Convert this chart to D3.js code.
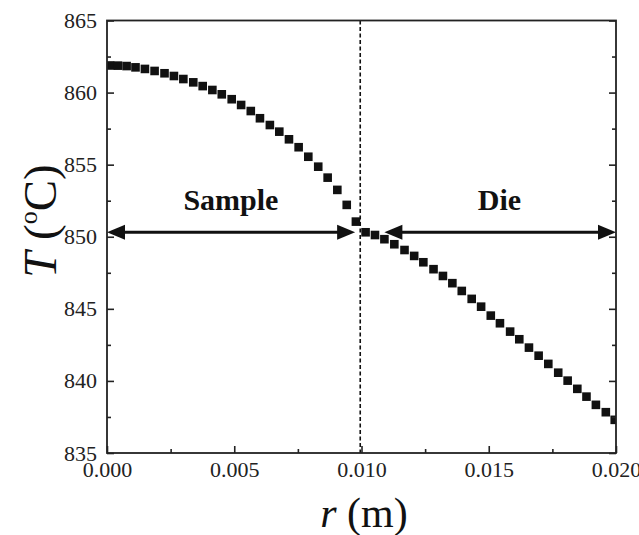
<!DOCTYPE html>
<html>
<head>
<meta charset="utf-8">
<script src="https://cdn.jsdelivr.net/npm/d3@7"></script>
<style>
  html, body { margin: 0; padding: 0; background: #fff; }
  svg { display: block; font-family: "Liberation Serif", "Times New Roman", serif; }
</style>
</head>
<body>
<div id="chart"></div>
<script>
// ---- data ----
const rSample = [0.00012, 0.00043, 0.00077, 0.00112, 0.00149, 0.00187, 0.00226, 0.00263, 0.00300, 0.00339,
                 0.00376, 0.00414, 0.00451, 0.00490, 0.00527, 0.00565, 0.00601, 0.00640, 0.00677, 0.00715,
                 0.00753, 0.00791, 0.00830, 0.00867, 0.00905, 0.00942, 0.00978];
const tSample = [861.88, 861.87, 861.84, 861.75, 861.64, 861.50, 861.34, 861.15, 860.94, 860.71,
                 860.45, 860.18, 859.88, 859.54, 859.14, 858.72, 858.22, 857.75, 857.29, 856.76,
                 856.21, 855.55, 854.86, 854.10, 853.25, 852.21, 851.05];
const rDie = [0.01016, 0.01053, 0.01090, 0.01129, 0.01169, 0.01207, 0.01243, 0.01283, 0.01320, 0.01357,
              0.01394, 0.01433, 0.01470, 0.01508, 0.01544, 0.01584, 0.01620, 0.01658, 0.01696, 0.01734,
              0.01773, 0.01810, 0.01848, 0.01884, 0.01921, 0.01960, 0.01995];
const tDie = [850.31, 850.12, 849.83, 849.48, 849.08, 848.67, 848.23, 847.75, 847.28, 846.78,
              846.24, 845.69, 845.15, 844.53, 844.00, 843.42, 842.89, 842.31, 841.75, 841.18,
              840.57, 840.02, 839.45, 838.91, 838.34, 837.83, 837.30];
const xTicks = [0.000, 0.005, 0.010, 0.015, 0.020];
const xMinorTicks = [0.0025, 0.0075, 0.0125, 0.0175];
const yTicks = [835, 840, 845, 850, 855, 860, 865];
const yMinorTicks = [837.5, 842.5, 847.5, 852.5, 857.5, 862.5];
const boundaryR = 0.00995;
const regionLabels = ["Sample", "Die"];
const regionLabelR = [0.00487, 0.01542];
const regionLabelT = 851.85;
const arrowStartR = [0.0, 0.0109];
const arrowEndR = [0.00975, 0.0200];
const arrowT = 850.31;

// ---- layout ----
const W = 639, H = 535;
const L = 107, R = 616, T = 20.5, B = 453;

const svg = d3.select("#chart").append("svg").attr("width", W).attr("height", H);

const x = d3.scaleLinear().domain([0, 0.02]).range([L, R]);
const y = d3.scaleLinear().domain([835, 865]).range([B, T]);

const ink = "#111";
const serif = "'Liberation Serif', 'Times New Roman', serif";

svg.append("defs").append("clipPath").attr("id", "clip")
  .append("rect").attr("x", L).attr("y", T).attr("width", R - L).attr("height", B - T);

// boundary dashed line
svg.append("line")
  .attr("x1", x(boundaryR)).attr("x2", x(boundaryR))
  .attr("y1", y(865)).attr("y2", y(835))
  .attr("stroke", ink).attr("stroke-width", 1.6)
  .attr("stroke-dasharray", "4,2.5");

// data points
const pts = rSample.map((r, i) => ({ r, t: tSample[i] }))
  .concat(rDie.map((r, i) => ({ r, t: tDie[i] })));
const ms = 8.6;
svg.append("g").attr("clip-path", "url(#clip)")
  .selectAll("rect").data(pts).join("rect")
  .attr("x", d => x(d.r) - ms / 2).attr("y", d => y(d.t) - ms / 2)
  .attr("width", ms).attr("height", ms).attr("fill", ink);

// arrows
function drawArrow(r0, r1, t) {
  const x0 = x(r0), x1 = x(r1), yy = y(t);
  const hl = 18, hw = 7.5;
  svg.append("line").attr("x1", x0 + hl - 2).attr("x2", x1 - hl + 2)
    .attr("y1", yy).attr("y2", yy).attr("stroke", ink).attr("stroke-width", 3);
  svg.append("path").attr("fill", ink)
    .attr("d", `M${x0},${yy} L${x0 + hl},${yy - hw} L${x0 + hl},${yy + hw} Z`);
  svg.append("path").attr("fill", ink)
    .attr("d", `M${x1},${yy} L${x1 - hl},${yy - hw} L${x1 - hl},${yy + hw} Z`);
}
arrowStartR.forEach((r0, i) => drawArrow(r0, arrowEndR[i], arrowT));

// region labels
regionLabels.forEach((lab, i) => {
  svg.append("text").attr("x", x(regionLabelR[i])).attr("y", y(regionLabelT))
    .attr("text-anchor", "middle").attr("font-weight", "bold")
    .attr("font-family", serif)
    .attr("font-size", 30).attr("fill", ink).text(lab);
});

// axes
const axisColor = "#222";
const gx = svg.append("g").attr("transform", `translate(0,${B})`)
  .call(d3.axisBottom(x).tickValues(xTicks).tickSizeInner(-7).tickSizeOuter(0)
    .tickPadding(8).tickFormat(d3.format(".3f")));
const gxm = svg.append("g").attr("transform", `translate(0,${B})`)
  .call(d3.axisBottom(x).tickValues(xMinorTicks).tickSizeInner(-4).tickSizeOuter(0).tickFormat(""));
const gy = svg.append("g").attr("transform", `translate(${L},0)`)
  .call(d3.axisLeft(y).tickValues(yTicks).tickSizeInner(-7).tickSizeOuter(0)
    .tickPadding(10).tickFormat(d3.format("d")));
const gym = svg.append("g").attr("transform", `translate(${L},0)`)
  .call(d3.axisLeft(y).tickValues(yMinorTicks).tickSizeInner(-4).tickSizeOuter(0).tickFormat(""));
const gyr = svg.append("g").attr("transform", `translate(${R},0)`)
  .call(d3.axisRight(y).tickValues(yTicks).tickSizeInner(-7).tickSizeOuter(0).tickFormat(""));
const gyrm = svg.append("g").attr("transform", `translate(${R},0)`)
  .call(d3.axisRight(y).tickValues(yMinorTicks).tickSizeInner(-4).tickSizeOuter(0).tickFormat(""));

[gx, gxm, gy, gym, gyr, gyrm].forEach(g => {
  g.attr("font-size", 22).attr("font-family", serif);
  g.select(".domain").remove();
  g.selectAll(".tick line").attr("stroke", axisColor).attr("stroke-width", 1.6);
  g.selectAll("text").attr("fill", "#222").attr("font-size", 22)
    .attr("font-family", serif);
});
gx.selectAll("text").attr("dy", "0.71em");

// frame
svg.append("rect").attr("x", L).attr("y", T).attr("width", R - L).attr("height", B - T)
  .attr("fill", "none").attr("stroke", axisColor).attr("stroke-width", 1.8);

// axis titles
const xt = svg.append("text").attr("x", 364).attr("y", 527)
  .attr("text-anchor", "middle").attr("font-size", 42).attr("fill", "#111")
  .attr("font-family", serif);
xt.append("tspan").attr("font-style", "italic").text("r");
xt.append("tspan").text(" (m)");

const yt = svg.append("text").attr("transform", `translate(56,${221}) rotate(-90)`)
  .attr("text-anchor", "middle").attr("font-size", 47).attr("fill", "#111")
  .attr("font-family", serif);
yt.append("tspan").attr("font-style", "italic").text("T");
yt.append("tspan").text(" (");
yt.append("tspan").attr("font-size", 26).attr("dy", -19).text("o");
yt.append("tspan").attr("dy", 19).text("C)");
</script>
</body>
</html>
